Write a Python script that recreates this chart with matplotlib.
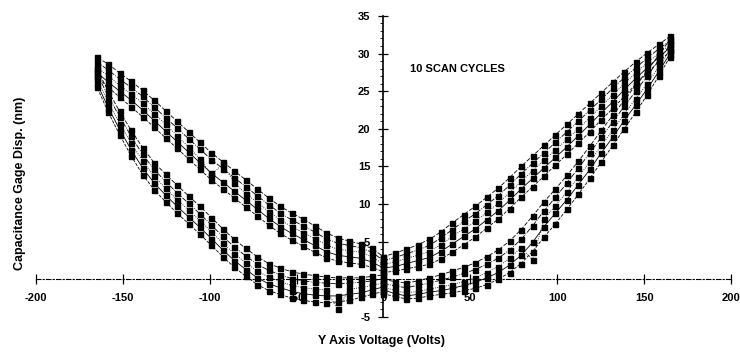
import matplotlib
matplotlib.use("Agg")
from matplotlib import pyplot as plt
from matplotlib.ticker import MultipleLocator, FixedLocator

plt.rcParams["font.family"] = ["Liberation Sans", "DejaVu Sans"]

# voltage steps of one half sweep (0 -> 165 V)
volts = [0, 6.6, 13.2, 19.8, 26.4, 33, 39.6, 46.2, 52.8, 59.4, 66, 72.6, 79.2,
         85.8, 92.4, 99, 105.6, 112.2, 118.8, 125.4, 132, 138.6, 145.2, 151.8,
         158.4, 165]

# displacement (nm) per cycle, each branch listed by increasing |V|
# pos_up: 0 -> +165, pos_down: +165 -> 0, neg_up: 0 -> -165, neg_down: -165 -> 0
pos_up = [
    [-1.9, -2.3, -2.6, -2.5, -2.2, -2.0, -1.8, -1.5, -1.2, -0.7, 0.0, 0.9, 2.1,
     3.7, 5.6, 7.4, 9.3, 11.3, 13.4, 15.6, 17.8, 20.0, 22.2, 24.5, 27.0, 29.6],
    [-1.4, -1.9, -2.2, -2.0, -1.7, -1.5, -1.2, -0.8, -0.4, 0.2, 0.9, 1.9, 3.2,
     4.9, 7.0, 8.8, 10.6, 12.6, 14.6, 16.8, 18.9, 21.1, 23.2, 25.3, 27.6, 30.0],
    [-1.0, -1.5, -1.8, -1.6, -1.3, -1.0, -0.7, -0.3, 0.2, 0.9, 1.7, 2.8, 4.2,
     2.6, 8.0, 9.8, 11.6, 13.6, 15.6, 17.8, 19.8, 22.0, 24.0, 26.0, 28.2, 30.5],
    [-0.5, -0.9, -1.1, -0.8, -0.5, -0.1, 0.3, 0.8, 1.3, 2.0, 2.8, 3.9, 5.3,
     7.1, 9.1, 10.9, 12.8, 14.8, 16.8, 18.9, 20.9, 23.0, 25.0, 27.0, 29.1, 31.2],
    [0.0, -0.3, -0.5, -0.2, 0.2, 0.6, 1.1, 1.6, 2.2, 3.0, 3.9, 5.1, 6.6,
     8.4, 10.3, 12.0, 13.8, 15.7, 17.7, 19.8, 21.8, 23.8, 25.8, 27.7, 29.8, 31.9],
]
pos_down = [
    [0.9, 1.1, 1.4, 1.7, 2.0, 2.7, 3.6, 4.6, 5.6, 6.8, 8.0, 9.4, 10.9,
     12.3, 13.7, 15.2, 16.6, 18.1, 19.6, 21.2, 22.7, 24.3, 25.9, 27.4, 28.9, 30.3],
    [1.5, 1.7, 2.1, 2.5, 2.9, 3.7, 4.7, 5.7, 6.7, 7.9, 9.1, 10.5, 12.0,
     13.4, 14.8, 16.2, 17.6, 19.1, 20.6, 22.1, 23.6, 25.2, 26.7, 28.1, 29.5, 30.8],
    [2.0, 2.3, 2.8, 3.2, 3.7, 4.6, 5.7, 6.7, 7.7, 8.9, 10.1, 11.5, 13.0,
     14.4, 15.8, 17.2, 18.6, 20.0, 21.5, 23.0, 24.5, 26.0, 27.4, 28.8, 30.0, 31.2],
    [2.5, 2.9, 3.4, 3.9, 4.5, 5.5, 6.6, 7.7, 8.7, 9.9, 11.1, 12.5, 14.0,
     15.4, 16.8, 18.2, 19.6, 21.0, 22.5, 23.9, 25.4, 26.8, 28.1, 29.4, 30.6, 31.7],
    [3.0, 3.5, 4.0, 4.6, 5.3, 6.3, 7.5, 8.6, 9.7, 10.9, 12.1, 13.5, 15.0,
     16.4, 17.8, 19.2, 20.6, 22.0, 23.4, 24.8, 26.2, 27.6, 28.9, 30.1, 31.2, 32.3],
]
neg_up = [
    [-1.6, -2.0, -2.4, -2.8, -3.0, -3.1, -3.0, -2.8, -2.5, -2.0, -1.5, -0.7, 0.4,
     1.6, 3.0, 4.5, 6.0, 7.4, 8.8, 10.3, 11.9, 13.9, 16.4, 19.2, 22.2, 25.6],
    [-1.0, -1.4, -1.8, -2.0, -2.2, -2.2, -2.1, -1.9, -1.6, -1.1, -0.6, 0.2, 1.3,
     2.5, 3.9, 5.4, 6.9, 8.3, 9.7, 11.2, 12.8, 14.8, 17.2, 19.9, 22.8, 26.1],
    [-0.5, -0.8, -1.1, -1.3, -4.0, -1.4, -1.3, -1.1, -0.8, -0.3, 0.3, 1.1, 2.2,
     3.4, 4.8, 6.3, 7.8, 9.2, 10.6, 12.1, 13.7, 15.7, 18.1, 20.7, 23.5, 26.7],
    [0.1, -0.2, -0.4, -0.5, -0.6, -0.5, -0.4, -0.2, 0.1, 0.6, 1.2, 2.0, 3.1,
     4.3, 5.7, 7.2, 8.7, 10.1, 11.5, 13.0, 14.6, 16.6, 19.0, 21.6, 24.3, 27.4],
    [0.6, 0.4, 0.2, 0.2, 0.2, 0.3, 0.5, 0.7, 1.0, 1.5, 2.1, 3.0, 4.1,
     5.3, 6.7, 8.2, 9.7, 11.1, 12.5, 14.0, 15.5, 17.5, 19.8, 22.3, 25.0, 28.0],
]
neg_down = [
    [1.0, 1.6, 2.0, 2.2, 2.4, 2.9, 3.6, 4.4, 5.2, 6.1, 7.2, 8.4, 9.6,
     10.8, 12.0, 13.2, 14.6, 16.0, 17.4, 18.8, 20.2, 21.6, 22.9, 24.2, 25.5, 26.9],
    [1.5, 2.3, 2.8, 3.0, 3.2, 3.7, 4.5, 5.3, 6.1, 7.0, 8.1, 9.3, 10.5,
     11.7, 12.9, 14.1, 15.5, 16.9, 18.3, 19.7, 21.1, 22.5, 23.8, 25.0, 26.2, 27.5],
    [2.0, 3.0, 3.6, 3.8, 4.0, 4.6, 5.4, 6.2, 7.0, 7.9, 9.0, 10.2, 11.4,
     12.8, 15.3, 13.9, 16.0, 17.6, 19.1, 20.6, 22.0, 23.4, 24.6, 25.8, 27.0, 28.2],
    [2.5, 3.6, 4.2, 4.5, 4.8, 5.4, 6.3, 7.1, 7.9, 8.8, 9.9, 11.1, 12.3,
     13.5, 14.7, 15.9, 17.3, 18.7, 20.1, 21.5, 22.9, 24.3, 25.5, 26.6, 27.8, 28.9],
    [3.0, 4.1, 4.7, 5.1, 5.5, 6.2, 7.1, 8.0, 8.8, 9.7, 10.8, 12.0, 13.2,
     14.4, 15.6, 16.8, 18.2, 19.6, 21.0, 22.4, 23.8, 25.1, 26.3, 27.4, 28.6, 29.5],
]

line_styles = ["--", "-", ":", "-.", (0, (5, 2))]

x_ticks = [-200, -150, -100, -50, 0, 50, 100, 150, 200]
y_ticks = [-5, 5, 10, 15, 20, 25, 30, 35]


def cycle_path(i):
    neg = [-v for v in volts]
    xs = volts + volts[::-1] + neg + neg[::-1]
    ys = pos_up[i] + pos_down[i][::-1] + neg_up[i] + neg_down[i][::-1]
    return xs, ys


fig = plt.figure(figsize=(7.4, 3.53), dpi=100)
ax = fig.add_axes([0.0486, 0.102, 0.9392, 0.853])

for i in range(len(pos_up)):
    xs, ys = cycle_path(i)
    ax.plot(xs, ys, color="black", lw=0.6, ls=line_styles[i],
            marker="s", ms=3.6, mfc="black", mec="black")

ax.set_xlim(-200, 200)
ax.set_ylim(-5, 35)

# axes cross at the origin
ax.spines["left"].set_position(("data", 0))
ax.spines["bottom"].set_position(("data", 0))
ax.spines["top"].set_visible(False)
ax.spines["right"].set_visible(False)
ax.spines["left"].set_linewidth(1.2)
ax.spines["bottom"].set_linewidth(0.8)
ax.spines["bottom"].set_linestyle((0, (4, 2, 1, 2)))

ax.xaxis.set_major_locator(FixedLocator(x_ticks))
ax.yaxis.set_major_locator(FixedLocator(y_ticks))
ax.yaxis.set_minor_locator(MultipleLocator(1))
ax.tick_params(axis="both", which="major", direction="inout", length=7,
               width=0.9, labelsize=8, pad=6)
ax.tick_params(axis="y", which="minor", direction="out", length=2, width=0.6)
ax.tick_params(axis="x", which="minor", length=0)
ax.set_xticklabels([str(t) for t in x_ticks], fontweight="bold")
ax.set_yticklabels([str(t) for t in y_ticks], fontweight="bold")

ax.text(15, 27.9, "10 SCAN CYCLES", fontsize=8, fontweight="bold",
        ha="left", va="center")

fig.text(0.027, 0.48, "Capacitance Gage Disp. (nm)", rotation=90,
         fontsize=9, fontweight="bold", ha="center", va="center")
fig.text(0.515, 0.035, "Y Axis Voltage (Volts)", fontsize=9,
         fontweight="bold", ha="center", va="center")

fig.savefig("out.png", dpi=100)
